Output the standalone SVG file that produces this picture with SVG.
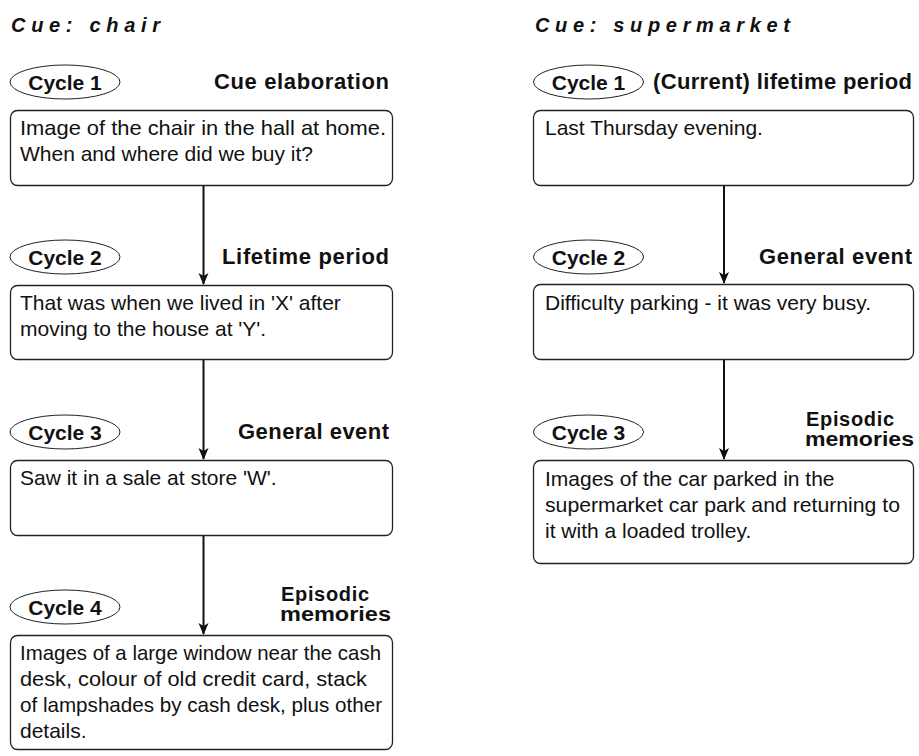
<svg xmlns="http://www.w3.org/2000/svg" width="919" height="756" viewBox="0 0 919 756">
<defs>
<style>
.title{font-family:"Liberation Sans",Arial,sans-serif;font-size:20px;font-weight:bold;font-style:italic;fill:#111}
.cyc{font-family:"Liberation Sans",Arial,sans-serif;font-size:21px;font-weight:bold;fill:#111;text-anchor:middle}
.lab{font-family:"Liberation Sans",Arial,sans-serif;font-size:22px;font-weight:bold;fill:#111}
.epi{font-family:"Liberation Sans",Arial,sans-serif;font-size:20px;font-weight:bold;fill:#111}
.txt{font-family:"Liberation Sans",Arial,sans-serif;font-size:21px;fill:#111}
.box{fill:#fff;stroke:#222;stroke-width:1.3}
.ell{fill:#fff;stroke:#222;stroke-width:1}
.conn{stroke:#111;stroke-width:2;fill:none}
</style>
<marker id="ah" viewBox="0 0 12 12" markerWidth="12" markerHeight="12" refX="11" refY="6" orient="auto" markerUnits="userSpaceOnUse">
<path d="M0,1 L12,6 L0,11 L3,6 z" fill="#111"/>
</marker>
</defs>
<rect width="919" height="756" fill="#fff"/>

<text class="title" x="11" y="32" textLength="149" lengthAdjust="spacing">Cue: chair</text>
<text class="title" x="535" y="32" textLength="255" lengthAdjust="spacing">Cue: supermarket</text>

<g id="connectors">
<line class="conn" x1="203.5" y1="185" x2="203.5" y2="284" marker-end="url(#ah)"/>
<line class="conn" x1="203.5" y1="359" x2="203.5" y2="459" marker-end="url(#ah)"/>
<line class="conn" x1="203.5" y1="535" x2="203.5" y2="634" marker-end="url(#ah)"/>
<line class="conn" x1="724" y1="185" x2="724" y2="283" marker-end="url(#ah)"/>
<line class="conn" x1="724" y1="359" x2="724" y2="459" marker-end="url(#ah)"/>
</g>

<g id="chair-cycle1">
<ellipse class="ell" cx="65" cy="82" rx="55" ry="17"/>
<text class="cyc" x="65" y="90">Cycle 1</text>
<text class="lab" x="389" y="89" text-anchor="end" textLength="175" lengthAdjust="spacing">Cue elaboration</text>
<rect class="box" x="10.5" y="110.5" width="382" height="75" rx="7"/>
<text class="txt" x="20" y="135" textLength="366" lengthAdjust="spacingAndGlyphs">Image of the chair in the hall at home.</text>
<text class="txt" x="20" y="161">When and where did we buy it?</text>
</g>

<g id="chair-cycle2">
<ellipse class="ell" cx="65" cy="257" rx="55" ry="17"/>
<text class="cyc" x="65" y="265">Cycle 2</text>
<text class="lab" x="389" y="264" text-anchor="end" textLength="167" lengthAdjust="spacing">Lifetime period</text>
<rect class="box" x="10.5" y="285.5" width="382" height="74" rx="7"/>
<text class="txt" x="20" y="310">That was when we lived in 'X' after</text>
<text class="txt" x="20" y="336">moving to the house at 'Y'.</text>
</g>

<g id="chair-cycle3">
<ellipse class="ell" cx="65" cy="432" rx="55" ry="17"/>
<text class="cyc" x="65" y="440">Cycle 3</text>
<text class="lab" x="389" y="439" text-anchor="end" textLength="151" lengthAdjust="spacing">General event</text>
<rect class="box" x="10.5" y="460.5" width="382" height="75" rx="7"/>
<text class="txt" x="20" y="485">Saw it in a sale at store 'W'.</text>
</g>

<g id="chair-cycle4">
<ellipse class="ell" cx="65" cy="607" rx="55" ry="17"/>
<text class="cyc" x="65" y="615">Cycle 4</text>
<text class="epi" x="281" y="601" textLength="88" lengthAdjust="spacing">Episodic</text>
<text class="epi" x="280" y="621" textLength="111" lengthAdjust="spacingAndGlyphs">memories</text>
<rect class="box" x="10.5" y="635.5" width="382" height="114" rx="7"/>
<text class="txt" x="20" y="660" textLength="361" lengthAdjust="spacingAndGlyphs">Images of a large window near the cash</text>
<text class="txt" x="20" y="686" textLength="347" lengthAdjust="spacingAndGlyphs">desk, colour of old credit card, stack</text>
<text class="txt" x="20" y="712" textLength="362" lengthAdjust="spacingAndGlyphs">of lampshades by cash desk, plus other</text>
<text class="txt" x="20" y="738">details.</text>
</g>

<g id="super-cycle1">
<ellipse class="ell" cx="588.5" cy="82" rx="55" ry="17"/>
<text class="cyc" x="588.5" y="90">Cycle 1</text>
<text class="lab" x="912" y="89" text-anchor="end" textLength="259" lengthAdjust="spacing">(Current) lifetime period</text>
<rect class="box" x="533.5" y="110.5" width="380" height="75" rx="7"/>
<text class="txt" x="545" y="135">Last Thursday evening.</text>
</g>

<g id="super-cycle2">
<ellipse class="ell" cx="588.5" cy="257" rx="55" ry="17"/>
<text class="cyc" x="588.5" y="265">Cycle 2</text>
<text class="lab" x="912" y="264" text-anchor="end" textLength="153" lengthAdjust="spacing">General event</text>
<rect class="box" x="533.5" y="284.5" width="380" height="75" rx="7"/>
<text class="txt" x="545" y="310">Difficulty parking - it was very busy.</text>
</g>

<g id="super-cycle3">
<ellipse class="ell" cx="588.5" cy="432" rx="55" ry="17"/>
<text class="cyc" x="588.5" y="440">Cycle 3</text>
<text class="epi" x="806" y="426" textLength="88" lengthAdjust="spacing">Episodic</text>
<text class="epi" x="805" y="446" textLength="109" lengthAdjust="spacingAndGlyphs">memories</text>
<rect class="box" x="533.5" y="460.5" width="380" height="103" rx="7"/>
<text class="txt" x="545" y="486">Images of the car parked in the</text>
<text class="txt" x="545" y="512" textLength="355" lengthAdjust="spacingAndGlyphs">supermarket car park and returning to</text>
<text class="txt" x="545" y="538">it with a loaded trolley.</text>
</g>
</svg>
